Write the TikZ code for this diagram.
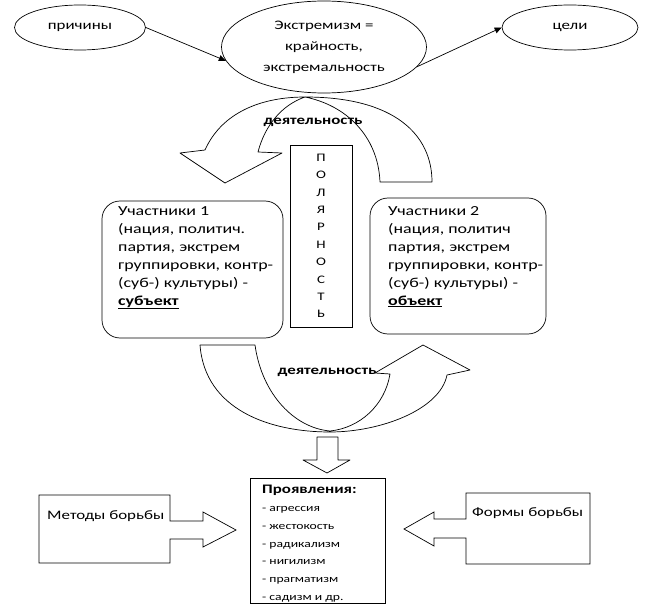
\documentclass[tikz,border=0pt]{standalone}
\usepackage{fontspec}
\setmainfont{Carlito}[FakeStretch=1.3]
\usetikzlibrary{shapes.geometric,arrows.meta}
\begin{document}
\begin{tikzpicture}[x=1pt,y=-1pt,
  ln/.style={draw=black, line width=0.7pt},
  ell/.style={ln, ellipse, inner sep=0pt},
  arr/.style={ln, -{Triangle[length=7pt,width=6pt]}},
  txt/.style={font=\fontsize{13}{17}\selectfont, inner sep=0pt},
  boxtxt/.style={inner sep=0pt, font=\fontsize{13.8}{18}\selectfont, align=left, anchor=north west},
  rbox/.style={ln, rounded corners=18pt, inner sep=0pt},
  sbox/.style={ln, inner sep=0pt},
  bold/.style={font=\fontsize{13}{17}\selectfont\bfseries, inner sep=0pt}
]
\useasboundingbox (0,0) rectangle (646,607);

% top ellipses
\node[ell, minimum width=131pt, minimum height=45pt, txt] (cause) at (80,27.5) {причины};
\node[ell, minimum width=205pt, minimum height=92pt, align=center,
      font=\fontsize{13}{21}\selectfont] (ext) at (324,47) {Экстремизм =\\крайность,\\экстремальность};
\node[ell, minimum width=136pt, minimum height=45pt, txt] (goal) at (570,27.5) {цели};
\draw[arr] (cause.east) -- (ext.188);
\draw[arr] (ext.-12) -- (goal.west);

% top curved arrow
\draw[ln, line join=round] (258,152) .. controls (265,125) and (282,105) .. (305,97)
  .. controls (262,97) and (222,112) .. (205,150) -- (180,153) -- (225,183) -- (282,153) -- cycle;
\draw[ln, line join=round] (305,97) .. controls (395,97) and (432,135) .. (432,182)
  -- (380,182) .. controls (378,135) and (345,105) .. (305,97);
\node[bold] (act1) at (313,122) {деятельность};

% polarity box
\node[sbox, minimum width=62pt, minimum height=182pt] (pol) at (321,236) {};
\node[inner sep=0pt, align=center, font=\fontsize{11.5}{17.4}\selectfont] (poltxt) at (pol.center)
  {П\\О\\Л\\Я\\Р\\Н\\О\\С\\Т\\Ь};

% participants
\node[rbox, minimum width=181pt, minimum height=137pt] (p1) at (192.5,269.5) {};
\node[boxtxt] (p1t) at (118,206) {Участники 1\\(нация, политич.\\партия, экстрем\\группировки, контр-\\(суб-) культуры) -\\\underline{\textbf{субъект}}};
\node[rbox, minimum width=176pt, minimum height=136pt] (p2) at (458,266) {};
\node[boxtxt] (p2t) at (388,206) {Участники 2\\(нация, политич\\партия, экстрем\\группировки, контр-\\(суб-) культуры) -\\\underline{\textbf{объект}}};

% bottom curved arrow
\draw[ln, line join=round] (200,345) -- (255,345) .. controls (262,395) and (295,428) .. (330,431)
  .. controls (360,428) and (385,405) .. (390,374) -- (375,373) -- (423,345) -- (470,370) -- (447,375)
  .. controls (440,410) and (380,432) .. (330,432) .. controls (270,432) and (205,410) .. (200,345) -- cycle;
\node[bold] (act2) at (327,372) {деятельность};

% down arrow
\draw[ln, line join=round] (317,437) -- (338,437) -- (338,460) -- (350,460) -- (327,473) -- (303,460) -- (317,460) -- cycle;

% manifestations box
\node[sbox, minimum width=135pt, minimum height=125pt] (man) at (317.5,540.5) {};
\node[inner sep=0pt, align=left, anchor=north west, font=\fontsize{10.5}{17.8}\selectfont] (mant) at (262,485)
  {{\fontsize{13}{17}\selectfont\bfseries Проявления:}\\- агрессия\\- жестокость\\- радикализм\\- нигилизм\\- прагматизм\\- садизм и др.};

% methods
\draw[ln, line join=miter] (39,495) -- (170,495) -- (170,521) -- (203,521) -- (203,512) -- (236,530)
  -- (203,547) -- (203,539) -- (170,539) -- (170,563) -- (39,563) -- cycle;
\node[txt, anchor=west] (meth) at (47,516) {Методы борьбы};

% forms
\draw[ln, line join=miter] (590,493) -- (466,493) -- (466,519) -- (434,519) -- (434,512) -- (404,529)
  -- (434,546) -- (434,538) -- (466,538) -- (466,564) -- (590,564) -- cycle;
\node[txt, anchor=west] (form) at (472,513) {Формы борьбы};
\end{tikzpicture}
\end{document}
